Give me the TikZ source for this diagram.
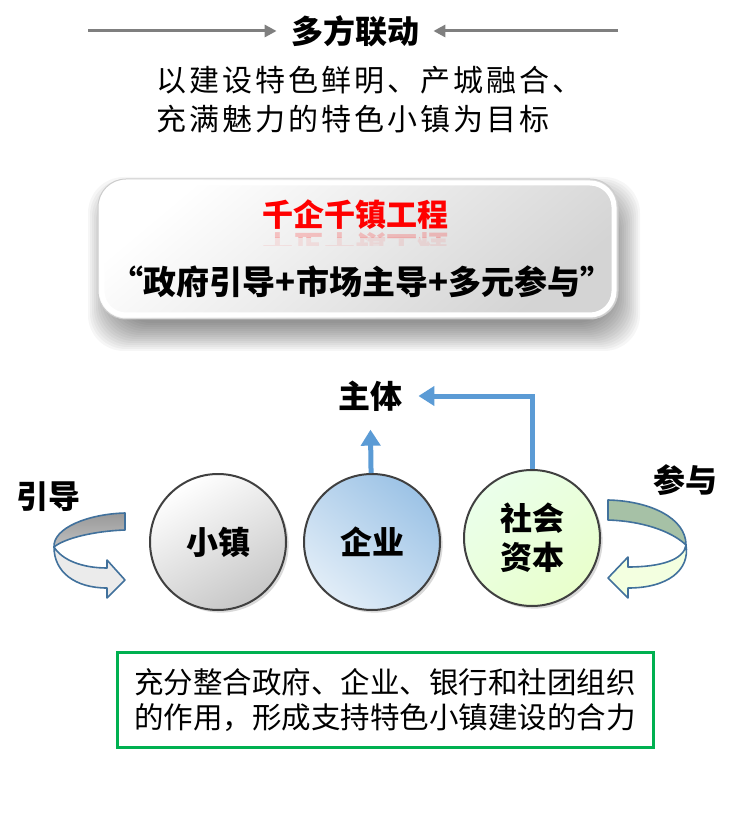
\documentclass[tikz,border=0pt]{standalone}
\usepackage{fontspec}
\setmainfont{Noto Sans CJK SC}
\usetikzlibrary{arrows.meta,shadows,calc}
\definecolor{flow}{HTML}{5B9BD5}
\definecolor{rim}{HTML}{41719C}
\definecolor{keep}{HTML}{00B050}
\definecolor{ring}{HTML}{404040}
\definecolor{leadgray}{HTML}{7F7F7F}
\newcommand{\hei}[1]{\fontsize{#1}{#1}\selectfont\bfseries}

\begin{document}
\begin{tikzpicture}[x=0.5pt,y=-0.5pt,
  heading/.style={font=\hei{16pt},inner sep=2pt},
  lead/.style={draw=leadgray,line width=1.5pt,-{Triangle[length=6pt,width=6pt]}},
  flowline/.style={draw=flow,line width=2.5pt,-{Triangle[length=8pt,width=9.5pt]}},
  ball/.style={circle,draw=ring,line width=1pt,minimum size=68pt,inner sep=0pt,
    align=center,font=\fontsize{16pt}{19.5pt}\selectfont\bfseries,
    drop shadow={shadow xshift=1.3pt,shadow yshift=-1.3pt,opacity=0.3}},
  turn/.style={draw=rim,line width=0.8pt,line join=round},
  tag/.style={font=\hei{16pt},inner sep=2pt}]
\useasboundingbox (0,0) rectangle (740,817);

% top heading
\node[heading] (title) at (355,31) {多方联动};
\coordinate (lfrom) at (88,31);
\coordinate (rfrom) at (618,31);
\draw[lead,shorten >=5pt] (lfrom) -- (title);
\draw[lead,shorten >=5pt] (rfrom) -- (title);
\node[anchor=west,align=left,inner sep=0pt,
  font=\fontsize{15pt}{19.5pt}\selectfont\addfontfeatures{LetterSpace=10}] (aim) at (156,100)
  {以建设特色鲜明、产城融合、\\充满魅力的特色小镇为目标};

% project box
\coordinate (pnw) at (98,179);
\coordinate (pse) at (618,319);
\foreach \e in {-12,-10,...,16}
  \fill[black,opacity=0.035,rounded corners=18pt]
    ($(pnw)+(6-\e,14-\e)$) rectangle ($(pse)+(6+\e,16+\e)$);
\shade[top color=white,bottom color=black!17,shading angle=40,rounded corners=14pt]
  (pnw) rectangle (pse);
\draw[black!20,line width=0.5pt,rounded corners=14pt] (pnw) rectangle (pse);
\draw[white,line width=2.5pt,rounded corners=12pt] ($(pnw)+(4,4)$) rectangle ($(pse)+(-4,-4)$);
\node[heading,text=red,font=\hei{15.5pt}] (plan) at (355,215) {千企千镇工程};
\begin{scope}
  \clip (240,231) rectangle (470,238);
  \node[heading,text=red,font=\hei{15.5pt},opacity=0.2,yscale=-1] at (355,247) {千企千镇工程};
\end{scope}
\begin{scope}
  \clip (240,238) rectangle (470,246);
  \node[heading,text=red,font=\hei{15.5pt},opacity=0.08,yscale=-1] at (355,247) {千企千镇工程};
\end{scope}
\node[heading,font=\hei{16.5pt}] (motto) at (362,282) {“政府引导+市场主导+多元参与”};

% three actors
\node[ball,top color=white,bottom color=black!22,shading angle=30] (town) at (218,542) {小镇};
\node[ball,top color=flow!60,bottom color=flow!18,shading angle=-40] (firm) at (372,542) {企业};
\node[ball,top color=green!8,bottom color=green!25!lime!20,shading angle=40] (fund) at (532,538) {社会\\资本};

\node[tag] (lead) at (370,396) {主体};
\node[tag] (guide) at (49,497) {引导};
\node[tag] (join) at (685,480) {参与};

\draw[flowline,shorten >=7pt] (firm) -- (lead);
\draw[flowline,shorten >=6pt] (fund.north) |- (lead.east);

% turning arrows
\fill[top color=black!40,bottom color=black!25]
  (125,513) .. controls (88,514) and (53,528) .. (54,547)
  .. controls (65,538) and (95,531) .. (125,530) -- cycle;
\draw[turn] (125,513) .. controls (88,514) and (53,528) .. (54,547)
  .. controls (65,538) and (95,531) .. (125,530) -- cycle;
\filldraw[turn,fill=black!8]
  (54,547) .. controls (62,560) and (82,568) .. (107,568) -- (107,560) -- (125,580)
  -- (107,598) -- (107,588) .. controls (75,588) and (54,572) .. (54,547) -- cycle;
\filldraw[turn,fill=green!30!black!35!white]
  (608,500) .. controls (650,501) and (686,518) .. (686,545)
  .. controls (670,530) and (640,521) .. (608,520) -- cycle;
\filldraw[turn,fill=green!18!lime!12]
  (686,545) .. controls (684,560) and (660,567) .. (628,567) -- (628,557) -- (608,578)
  -- (628,598) -- (628,588) .. controls (668,588) and (690,570) .. (686,545) -- cycle;

% summary box
\node[draw=keep,line width=1.5pt,minimum width=268pt,minimum height=47.5pt,align=left,
  font=\fontsize{14.75pt}{17.5pt}\selectfont] (sum) at (385,700)
  {充分整合政府、企业、银行和社团组织\\的作用，形成支持特色小镇建设的合力};
\end{tikzpicture}
\end{document}
